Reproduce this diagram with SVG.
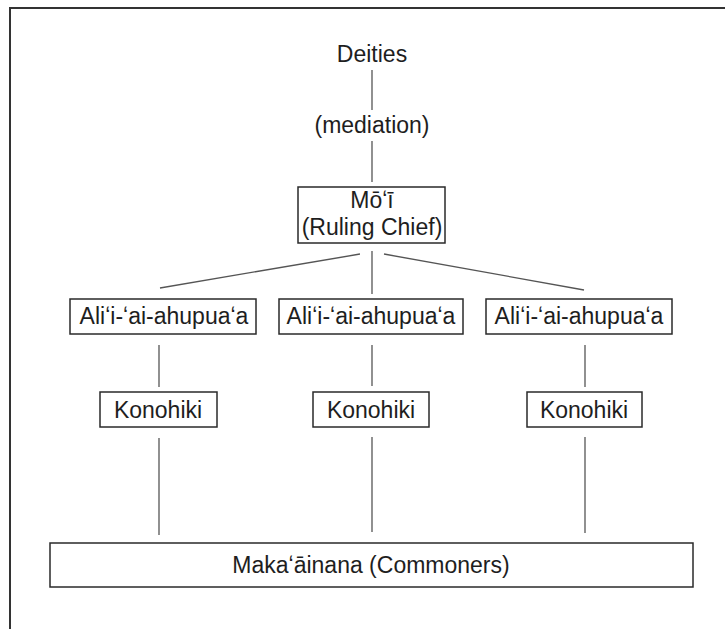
<svg xmlns="http://www.w3.org/2000/svg" width="725" height="629" viewBox="0 0 725 629">
<style>
.t{font-family:"Liberation Sans",Arial,sans-serif;font-size:23px;fill:#1e1e1e;text-anchor:middle}
.b{fill:#fff;stroke:#2a2a2a;stroke-width:1.5}
.c{stroke:#555;stroke-width:1.3;fill:none}
.f{stroke:#333;stroke-width:2;fill:none}
</style>
<rect width="725" height="629" fill="#fff"/>
<g id="frame">
<path class="f" d="M10 629 V8 H725"/>
</g>
<g id="connectors">
<line class="c" x1="372" y1="70" x2="372" y2="110"/>
<line class="c" x1="372" y1="141" x2="372" y2="182"/>
<line class="c" x1="360" y1="254" x2="160" y2="288"/>
<line class="c" x1="372" y1="251" x2="372" y2="294"/>
<line class="c" x1="384" y1="254" x2="584" y2="290"/>
<line class="c" x1="159" y1="345" x2="159" y2="387"/>
<line class="c" x1="372" y1="345" x2="372" y2="386"/>
<line class="c" x1="585" y1="345" x2="585" y2="387"/>
<line class="c" x1="159" y1="438" x2="159" y2="535"/>
<line class="c" x1="372" y1="437" x2="372" y2="532"/>
<line class="c" x1="585" y1="437" x2="585" y2="533"/>
</g>
<g id="deities">
<text class="t" x="372" y="62">Deities</text>
</g>
<g id="mediation">
<text class="t" x="372" y="133">(mediation)</text>
</g>
<g id="moi">
<rect class="b" x="298" y="187" width="147" height="56"/>
<text class="t" x="372" y="208">Mōʻī</text>
<text class="t" x="372" y="235">(Ruling Chief)</text>
</g>
<g id="alii1">
<rect class="b" x="70" y="299" width="186" height="35"/>
<text class="t" x="164" y="324">Aliʻi-ʻai-ahupuaʻa</text>
</g>
<g id="alii2">
<rect class="b" x="279" y="299" width="184" height="35"/>
<text class="t" x="371" y="324">Aliʻi-ʻai-ahupuaʻa</text>
</g>
<g id="alii3">
<rect class="b" x="486" y="299" width="186" height="35"/>
<text class="t" x="579" y="324">Aliʻi-ʻai-ahupuaʻa</text>
</g>
<g id="konohiki1">
<rect class="b" x="100" y="392" width="117" height="35"/>
<text class="t" x="158" y="418">Konohiki</text>
</g>
<g id="konohiki2">
<rect class="b" x="313" y="392" width="116" height="35"/>
<text class="t" x="371" y="418">Konohiki</text>
</g>
<g id="konohiki3">
<rect class="b" x="527" y="392" width="115" height="35"/>
<text class="t" x="584" y="418">Konohiki</text>
</g>
<g id="makaainana">
<rect class="b" x="50" y="543" width="643" height="44"/>
<text class="t" x="371" y="573">Makaʻāinana (Commoners)</text>
</g>
</svg>
